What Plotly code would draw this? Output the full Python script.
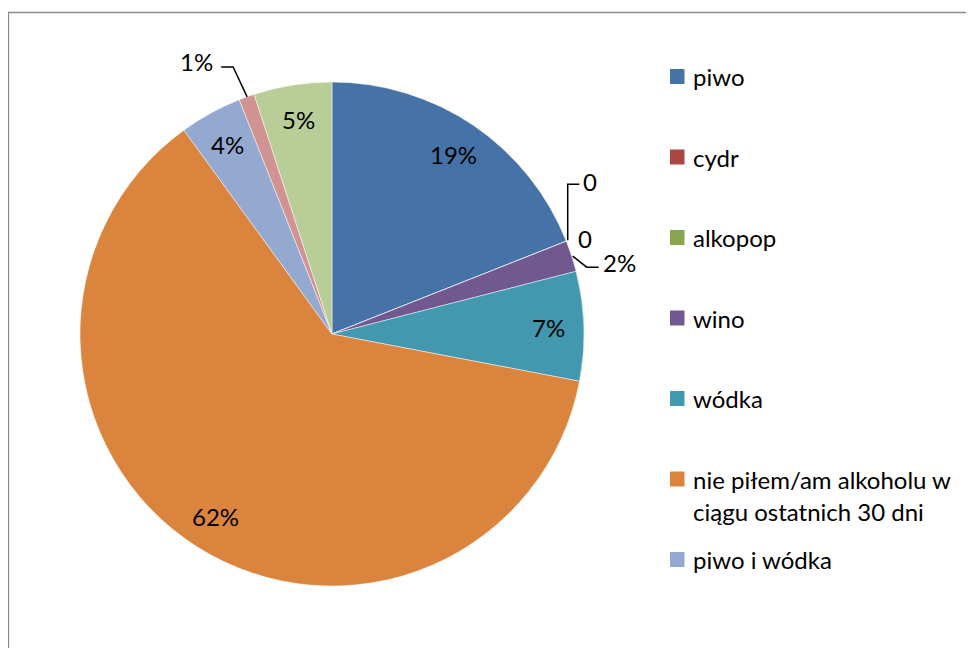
import plotly.graph_objects as go
import math

# ---- data ----
labels = ["piwo", "cydr", "alkopop", "wino", "wódka",
          "nie piłem/am alkoholu w<br>ciągu ostatnich 30 dni", "piwo i wódka",
          "inne 1", "inne 2"]
values = [19, 0, 0, 2, 7, 62, 4, 1, 5]
colors = ["#4572A7", "#AA4643", "#89A54E", "#71588F", "#4198AF",
          "#DB843D", "#93A9CF", "#D19392", "#B9CD96"]
legend_count = 7  # only the first 7 entries are visible in the legend

# page is offset by the 8px body margin
OFF = 8
FW, FH = 974 - OFF, 648 - OFF
FONT = "Lato"
FS = 24

# pie geometry (page pixels)
cx, cy, R = 332, 334, 252


def px(x):
    return (x - OFF) / FW


def py(y):
    return 1 - (y - OFF) / FH


total = sum(values)
cum = [0]
for v in values:
    cum.append(cum[-1] + v)
mid = [(cum[i] + cum[i + 1]) / 2 / total for i in range(len(values))]
pct = [f"{v/total*100:.0f}%" for v in values]


def polar(frac, r):
    a = 2 * math.pi * frac
    return cx + r * math.sin(a), cy - r * math.cos(a)


fig = go.Figure()
fig.add_trace(go.Pie(
    labels=labels, values=values, sort=False, direction="clockwise", rotation=0,
    marker=dict(colors=colors, line=dict(color="rgba(255,255,255,0.6)", width=0.8)),
    textinfo="none",
    domain=dict(x=[px(cx - R), px(cx + R)], y=[py(cy + R), py(cy - R)]),
    showlegend=False, hoverinfo="label+percent",
))

shapes = []
annotations = []


def text(x, y, txt, xanchor="left"):
    annotations.append(dict(x=px(x), y=py(y), xref="paper", yref="paper", text=txt,
                            showarrow=False, xanchor=xanchor, yanchor="middle",
                            font=dict(family=FONT, size=FS, color="#000000")))


def leader(points):
    d = "M " + " L ".join(f"{px(x)},{py(y)}" for x, y in points)
    shapes.append(dict(type="path", xref="paper", yref="paper", path=d,
                       line=dict(color="#000000", width=1.5)))


# ---- inside labels (slices of at least 4%) ----
for i, v in enumerate(values):
    if v / total >= 0.04:
        x, y = polar(mid[i], 0.86 * R)
        text(x, y, pct[i], xanchor="center")

# ---- outside labels with leader lines for small slices ----
ex, ey = polar(mid[1], R)          # cydr (0)
leader([(ex + 1.4, ey - 1), (ex + 1.4, ey - 57), (ex + 13, ey - 57)])
text(ex + 15, ey - 60, f"{values[1]}")
ex, ey = polar(mid[2], R)          # alkopop (0)
text(ex + 10, ey - 3, f"{values[2]}")
ex, ey = polar(mid[3], R)          # wino
leader([(ex + 1, ey), (ex + 15, ey + 11), (ex + 27, ey + 11)])
text(ex + 29, ey + 6, pct[3])
ex, ey = polar(mid[7], R)          # 1% slice
leader([(ex + 0.5, ey), (ex - 13.5, ey - 30), (ex - 25.5, ey - 30)])
text(ex - 32, ey - 35, pct[7], xanchor="right")

# ---- manual legend (first 7 entries) ----
lx, ly0, lstep, lline = 670, 76.5, 80.5, 32.5
for i in range(legend_count):
    yc = ly0 + i * lstep
    shapes.append(dict(type="rect", xref="paper", yref="paper",
                       x0=px(lx), x1=px(lx + 14.5), y0=py(yc + 7.5), y1=py(yc - 7.5),
                       fillcolor=colors[i], line=dict(width=0)))
    for k, line in enumerate(labels[i].split("<br>")):
        text(lx + 21, yc + k * lline, line)

# chart border (right and bottom edges are outside the picture)
shapes.append(dict(type="rect", xref="paper", yref="paper",
                   x0=px(8.3), x1=px(1000), y0=py(700), y1=py(12.5),
                   line=dict(color="#898989", width=1.6), fillcolor="rgba(0,0,0,0)"))

fig.update_layout(
    width=FW, height=FH, autosize=False,
    margin=dict(l=0, r=0, t=0, b=0),
    paper_bgcolor="#FFFFFF", plot_bgcolor="#FFFFFF",
    shapes=shapes, annotations=annotations,
    font=dict(family=FONT, size=FS, color="#000000"),
)

fig.write_html("out.html")
